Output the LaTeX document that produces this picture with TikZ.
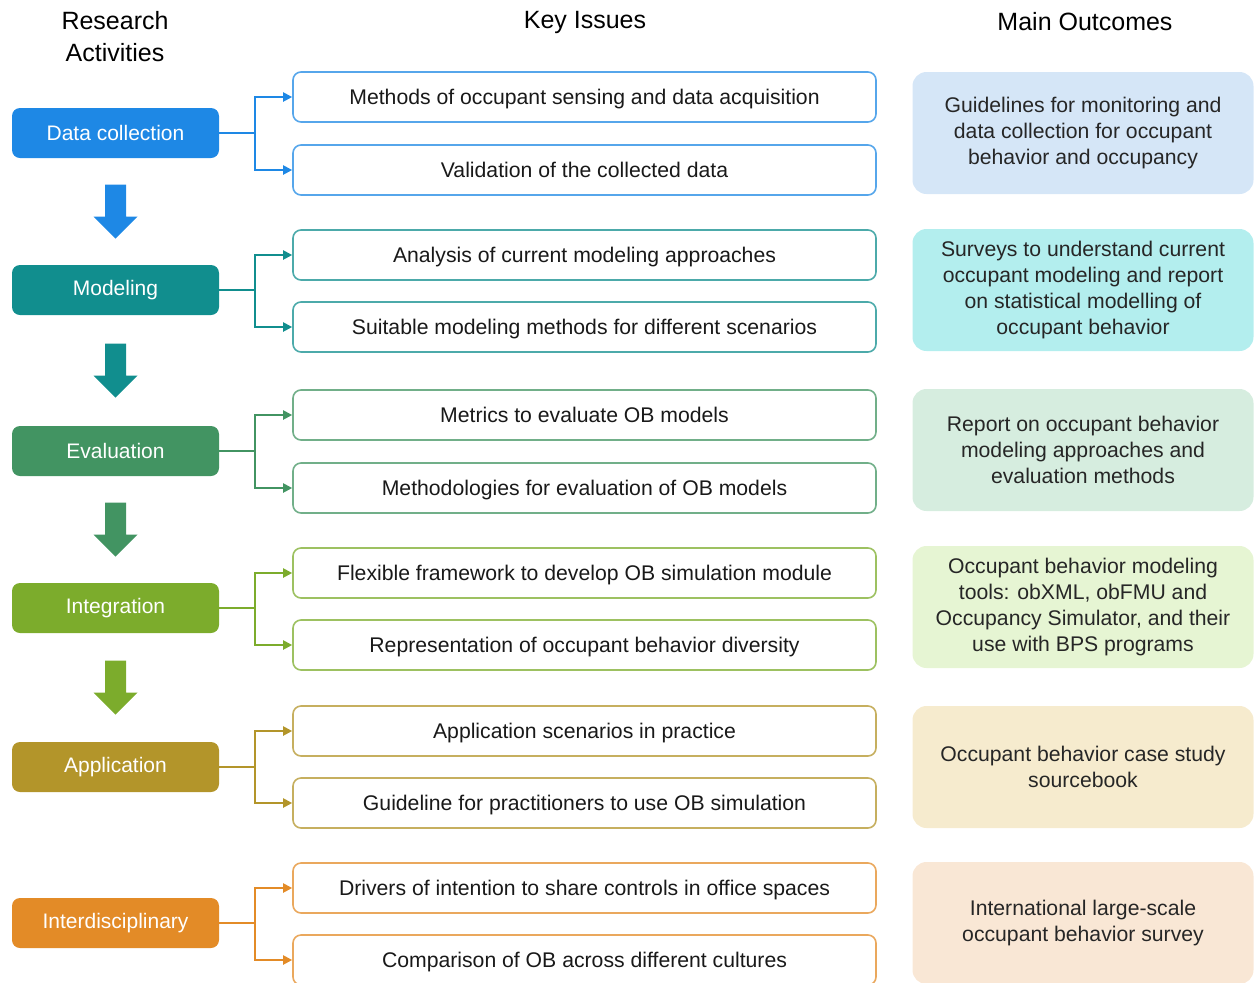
\documentclass[tikz,border=0pt]{standalone}
\usepackage{fontspec}
\setmainfont{Liberation Sans}
\usetikzlibrary{arrows.meta,calc}

\definecolor{dcblue}{HTML}{1E88E5}
\definecolor{dclight}{HTML}{D5E6F7}
\definecolor{modteal}{HTML}{118E8E}
\definecolor{modlight}{HTML}{B3EEEE}
\definecolor{evalgreen}{HTML}{429462}
\definecolor{evallight}{HTML}{D6EDDF}
\definecolor{intlime}{HTML}{7CAC2C}
\definecolor{intlight}{HTML}{E6F5D3}
\definecolor{appgold}{HTML}{B3952A}
\definecolor{applight}{HTML}{F6EBCE}
\definecolor{idorange}{HTML}{E38B27}
\definecolor{idlight}{HTML}{F9E7D5}

\begin{document}
\begin{tikzpicture}[x=0.5pt,y=-0.5pt,
  act/.style={rounded corners=4pt, minimum width=103.5pt, minimum height=25pt,
    inner sep=0pt, text=white, font=\fontsize{10.5}{12}\selectfont},
  issue/.style={draw, line width=0.8pt, rounded corners=4pt, fill=white,
    minimum width=291.5pt, minimum height=25pt, inner sep=0pt,
    text height=8.3pt, text depth=1pt,
    text=black!90, font=\fontsize{10.6}{12}\selectfont},
  outcome/.style={rounded corners=7pt, minimum width=170.5pt, minimum height=61pt,
    inner sep=0pt, align=center, text=black!85, font=\fontsize{10.6}{13}\selectfont},
  head/.style={align=center, font=\fontsize{12.5}{16}\selectfont},
  link/.style={line width=1pt, -{Triangle[length=4.5pt,width=4.5pt]}}]
\useasboundingbox (0,0) rectangle (1255,982);

% column heads
\node[head] (hact) at (115,37) {Research\\Activities};
\node[head] (hkey) at (585,22) {Key Issues};
\node[head] (hout) at (1085,22) {Main Outcomes};

% research activities
\node[act, fill=dcblue] (dc) at (115.5,133) {Data collection};
\node[act, fill=modteal] (mod) at (115.5,290) {Modeling};
\node[act, fill=evalgreen] (ev) at (115.5,451) {Evaluation};
\node[act, fill=intlime] (int) at (115.5,608) {Integration};
\node[act, fill=appgold] (app) at (115.5,767) {Application};
\node[act, fill=idorange] (id) at (115.5,923) {Interdisciplinary};

% key issues
\node[issue, draw=dcblue!75] (k1) at (584.5,97) {Methods of occupant sensing and data acquisition};
\node[issue, draw=dcblue!75] (k2) at (584.5,170) {Validation of the collected data};
\node[issue, draw=modteal!75] (k3) at (584.5,255) {Analysis of current modeling approaches};
\node[issue, draw=modteal!75] (k4) at (584.5,327) {Suitable modeling methods for different scenarios};
\node[issue, draw=evalgreen!75] (k5) at (584.5,415) {Metrics to evaluate OB models};
\node[issue, draw=evalgreen!75] (k6) at (584.5,488) {Methodologies for evaluation of OB models};
\node[issue, draw=intlime!75] (k7) at (584.5,573) {Flexible framework to develop OB simulation module};
\node[issue, draw=intlime!75] (k8) at (584.5,645) {Representation of occupant behavior diversity};
\node[issue, draw=appgold!75] (k9) at (584.5,731) {Application scenarios in practice};
\node[issue, draw=appgold!75] (k10) at (584.5,803) {Guideline for practitioners to use OB simulation};
\node[issue, draw=idorange!75] (k11) at (584.5,888) {Drivers of intention to share controls in office spaces};
\node[issue, draw=idorange!75] (k12) at (584.5,960) {Comparison of OB across different cultures};

% main outcomes
\node[outcome, fill=dclight] (o1) at (1083,133) {Guidelines for monitoring and\\data collection for occupant\\behavior and occupancy};
\node[outcome, fill=modlight] (o2) at (1083,290) {Surveys to understand current\\occupant modeling and report\\on statistical modelling of\\occupant behavior};
\node[outcome, fill=evallight] (o3) at (1083,450) {Report on occupant behavior\\modeling approaches and\\evaluation methods};
\node[outcome, fill=intlight] (o4) at (1083,607) {Occupant behavior modeling\\tools: obXML, obFMU and\\Occupancy Simulator, and their\\use with BPS programs};
\node[outcome, fill=applight] (o5) at (1083,767) {Occupant behavior case study\\sourcebook};
\node[outcome, fill=idlight] (o6) at (1083,923) {International large-scale\\occupant behavior survey};

% branches to the key issues
\draw[link, dcblue] (dc.east) -- ++(36,0) |- (k1.west);
\draw[link, dcblue] (dc.east) -- ++(36,0) |- (k2.west);
\draw[link, modteal] (mod.east) -- ++(36,0) |- (k3.west);
\draw[link, modteal] (mod.east) -- ++(36,0) |- (k4.west);
\draw[link, evalgreen] (ev.east) -- ++(36,0) |- (k5.west);
\draw[link, evalgreen] (ev.east) -- ++(36,0) |- (k6.west);
\draw[link, intlime] (int.east) -- ++(36,0) |- (k7.west);
\draw[link, intlime] (int.east) -- ++(36,0) |- (k8.west);
\draw[link, appgold] (app.east) -- ++(36,0) |- (k9.west);
\draw[link, appgold] (app.east) -- ++(36,0) |- (k10.west);
\draw[link, idorange] (id.east) -- ++(36,0) |- (k11.west);
\draw[link, idorange] (id.east) -- ++(36,0) |- (k12.west);

% block arrows between activities
\fill[dcblue] ($(dc.south)!.5!(mod.north)$) ++(-10.5,-27) -- ++(21,0) -- ++(0,32) -- ++(11.5,0) -- ++(-22,22) -- ++(-22,-22) -- ++(11.5,0) -- cycle;
\fill[modteal] ($(mod.south)!.5!(ev.north)$) ++(-10.5,-27) -- ++(21,0) -- ++(0,32) -- ++(11.5,0) -- ++(-22,22) -- ++(-22,-22) -- ++(11.5,0) -- cycle;
\fill[evalgreen] ($(ev.south)!.5!(int.north)$) ++(-10.5,-27) -- ++(21,0) -- ++(0,32) -- ++(11.5,0) -- ++(-22,22) -- ++(-22,-22) -- ++(11.5,0) -- cycle;
\fill[intlime] ($(int.south)!.5!(app.north)$) ++(-10.5,-27) -- ++(21,0) -- ++(0,32) -- ++(11.5,0) -- ++(-22,22) -- ++(-22,-22) -- ++(11.5,0) -- cycle;
\end{tikzpicture}
\end{document}
